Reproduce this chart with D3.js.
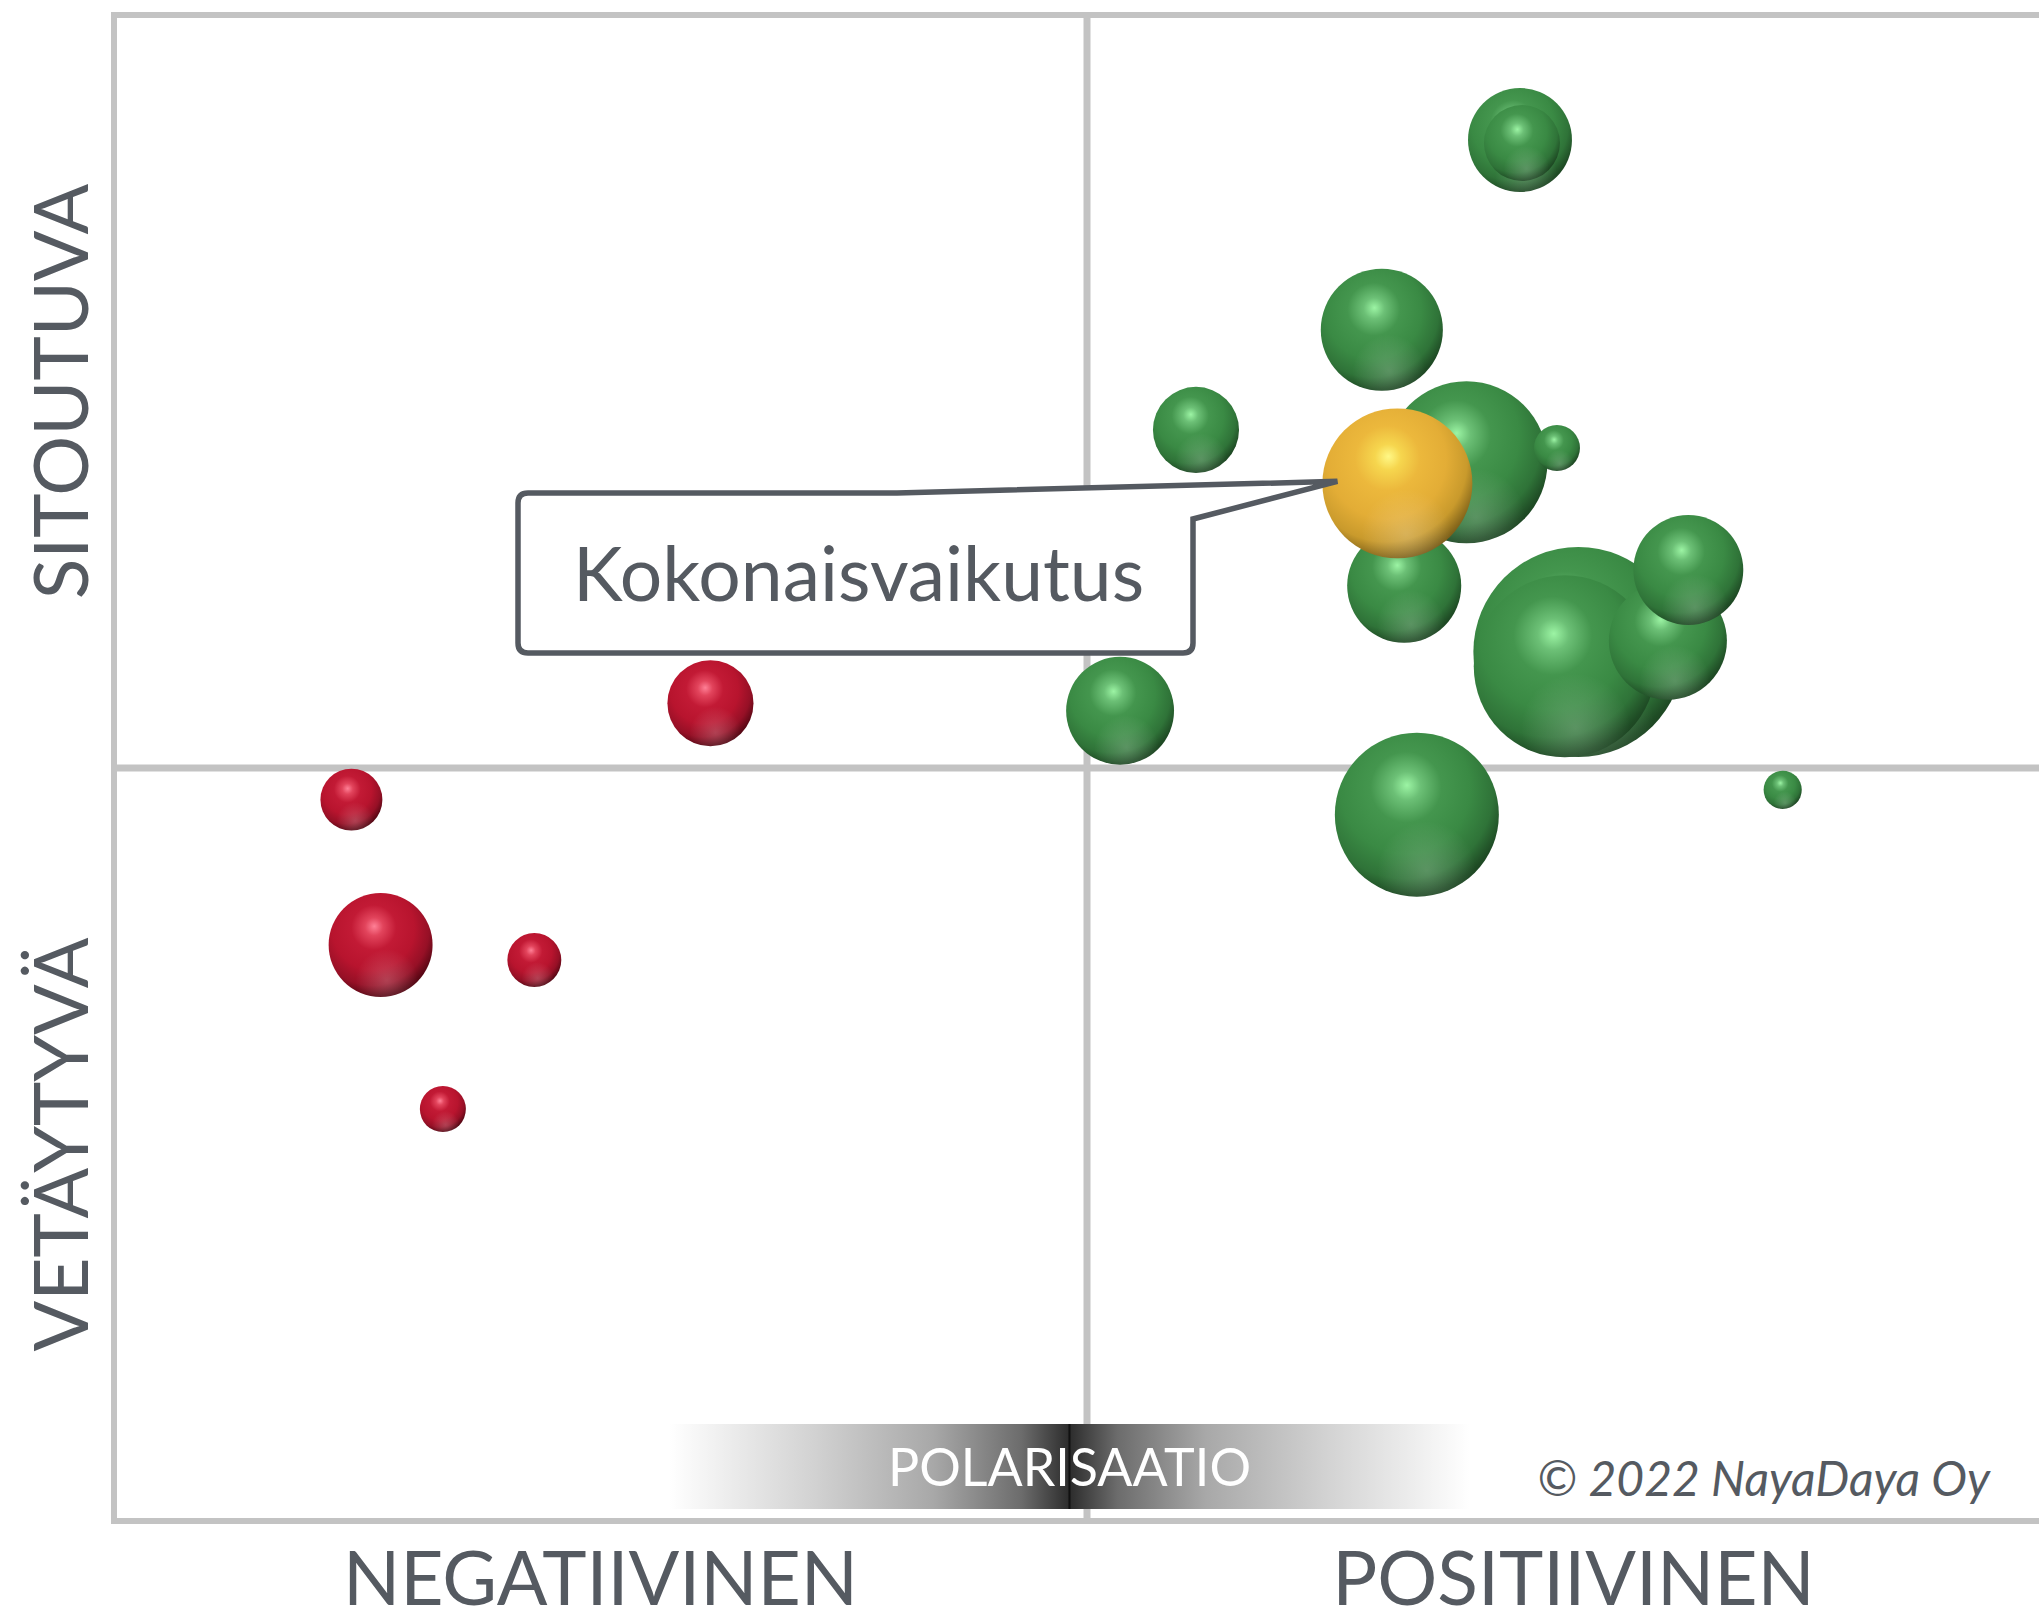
<!DOCTYPE html>
<html><head><meta charset="utf-8">
<script src="https://cdn.jsdelivr.net/npm/d3@7"></script>
<style>
html,body{margin:0;padding:0;background:#fff;}
svg{display:block;font-family:Lato,"Open Sans",sans-serif;}
</style></head>
<body>
<svg id="chart" width="2039" height="1619"></svg>
<script>
// ---- data (x: negatiivinen..positiivinen, y: vetäytyvä..sitoutuva, size: relative weight) ----
const groups = ["neg","neg","neg","neg","neg",
  "pos","pos","pos","pos","pos","pos","pos","pos","pos","pos","pos","pos","pos","pos",
  "total"];
const xValues = [-38.7,-75.6,-72.6,-56.8,-66.2,
  44.5,44.7,30.3,11.2,39.0,48.3,32.6,50.5,49.1,59.7,61.8,3.4,33.9,71.5,
  31.9];
const yValues = [8.6,-4.2,-23.5,-25.5,-45.3,
  83.4,83.0,58.2,44.9,40.6,42.5,24.2,15.4,13.5,16.9,26.3,7.6,-6.2,-2.9,
  37.8];
const sizes = [16.8,8.7,24.5,6.6,4.8,
  24.5,13.1,33.8,16.8,59.5,4.8,29.5,100,75.1,31.6,27.4,26.4,61.0,3.3,
  51.0];
const xAxisLabels = ["NEGATIIVINEN","POSITIIVINEN"];
const yAxisLabels = ["SITOUTUVA","VETÄYTYVÄ"];
const calloutLabel = "Kokonaisvaikutus";
const barLabel = "POLARISAATIO";
const copyright = "© 2022 NayaDaya Oy";

const svg = d3.select("#chart");
const L = 114, R = 2060, T = 15, B = 1521;
const x = d3.scaleLinear().domain([-100,100]).range([L,R]);
const y = d3.scaleLinear().domain([-100,100]).range([B,T]);
const r = d3.scaleSqrt().domain([0,100]).range([0,105]);
const textColor = "#555a61";
const lineColor = "#c3c3c3";

const defs = svg.append("defs");
const palettes = {
  pos:   ["#9cf4a4","#6cc076","#44964e","#3a8a44","#2f7338","#1f4c25","#1a3f1f","#24552b"],
  neg:   ["#ff8096","#e2445c","#c21a35","#b8142e","#961026","#5e0816","#4a0510","#5c0a18"],
  total: ["#fff886","#f6d64e","#ecb83c","#e3ad36","#c99a2c","#8a6a1c","#6d5014","#7a5a18"]
};
const offs = [0,0.12,0.3,0.55,0.75,0.88,0.95,1];
Object.entries(palettes).forEach(([k,cols])=>{
  const g = defs.append("radialGradient").attr("id","grad-"+k)
    .attr("cx",0.42).attr("cy",0.36).attr("r",0.72).attr("fx",0.44).attr("fy",0.32);
  cols.forEach((c,i)=>g.append("stop").attr("offset",offs[i]).attr("stop-color",c));
});
const refl = defs.append("radialGradient").attr("id","refl")
  .attr("cx",0.56).attr("cy",0.84).attr("r",0.3);
refl.append("stop").attr("offset",0).attr("stop-color","#fff").attr("stop-opacity",0.2);
refl.append("stop").attr("offset",1).attr("stop-color","#fff").attr("stop-opacity",0);

const barGrad = defs.append("linearGradient").attr("id","bar").attr("x1",0).attr("x2",1).attr("y1",0).attr("y2",0);
[[0,"#ffffff"],[0.18,"#d2d2d2"],[0.33,"#a8a8a8"],[0.44,"#6c6c6c"],[0.5,"#2c2c2c"],
 [0.56,"#6c6c6c"],[0.67,"#a8a8a8"],[0.82,"#d2d2d2"],[1,"#ffffff"]]
 .forEach(([o,c])=>barGrad.append("stop").attr("offset",o).attr("stop-color",c));

// ---- frame and quadrant lines ----
const frame = svg.append("g").attr("stroke",lineColor).attr("stroke-width",6).attr("fill","none");
frame.append("line").attr("x1",L).attr("x2",R).attr("y1",T).attr("y2",T);
frame.append("line").attr("x1",L).attr("x2",R).attr("y1",B).attr("y2",B);
frame.append("line").attr("x1",L).attr("x2",L).attr("y1",T-3).attr("y2",B+3);
const mid = svg.append("g").attr("stroke",lineColor).attr("stroke-width",7).attr("fill","none");
mid.append("line").attr("x1",x(0)).attr("x2",x(0)).attr("y1",T).attr("y2",B);
mid.append("line").attr("x1",L).attr("x2",R).attr("y1",y(0)).attr("y2",y(0));

// ---- polarisaatio bar ----
const barCx = x(-1.8), barW = 800, barTop = 1424, barH = 85;
svg.append("rect").attr("x",barCx-barW/2).attr("y",barTop).attr("width",barW).attr("height",barH)
  .attr("fill","url(#bar)");
svg.append("line").attr("x1",barCx).attr("x2",barCx).attr("y1",barTop).attr("y2",barTop+barH)
  .attr("stroke","#111").attr("stroke-width",2);
svg.append("text").attr("x",barCx).attr("y",1486).attr("text-anchor","middle")
  .attr("fill","#fff").attr("font-size",52).text(barLabel);

svg.append("text").attr("x",1990).attr("y",1496).attr("text-anchor","end")
  .attr("fill",textColor).attr("font-size",48).attr("font-style","italic").text(copyright);

// ---- bubbles ----
const data = xValues.map((v,i)=>({x:v,y:yValues[i],s:sizes[i],g:groups[i]}));
const bub = svg.append("g").selectAll("g").data(data).join("g")
  .attr("transform",d=>`translate(${x(d.x)},${y(d.y)})`);
bub.append("circle").attr("r",d=>r(d.s)).attr("fill",d=>`url(#grad-${d.g})`);
bub.append("circle").attr("r",d=>r(d.s)).attr("fill","url(#refl)");

// ---- callout ----
const tot = data.find(d=>d.g==="total");
const tipX = x(tot.x)-60, tipY = y(tot.y)-2;
const bx0 = 518, bx1 = 1193, by0 = 493, by1 = 653, cr = 10;
const p = d3.path();
p.moveTo(bx0+cr,by0);
p.lineTo(897,by0);
p.lineTo(tipX,tipY);
p.lineTo(bx1,519);
p.lineTo(bx1,by1-cr);
p.quadraticCurveTo(bx1,by1,bx1-cr,by1);
p.lineTo(bx0+cr,by1);
p.quadraticCurveTo(bx0,by1,bx0,by1-cr);
p.lineTo(bx0,by0+cr);
p.quadraticCurveTo(bx0,by0,bx0+cr,by0);
p.closePath();
svg.append("path").attr("d",p.toString()).attr("fill","#fff")
  .attr("stroke",textColor).attr("stroke-width",5.5).attr("stroke-linejoin","miter");
svg.append("text").attr("x",573).attr("y",601).attr("fill",textColor)
  .attr("font-size",75).text(calloutLabel);

// ---- axis labels ----
svg.append("text").attr("x",(L+x(0))/2).attr("y",1605).attr("text-anchor","middle")
  .attr("fill",textColor).attr("font-size",75).text(xAxisLabels[0]);
svg.append("text").attr("x",(x(0)+R)/2).attr("y",1605).attr("text-anchor","middle")
  .attr("fill",textColor).attr("font-size",75).text(xAxisLabels[1]);
svg.append("text").attr("transform",`translate(88,${(T+y(0))/2}) rotate(-90)`).attr("text-anchor","middle")
  .attr("fill",textColor).attr("font-size",75).text(yAxisLabels[0]);
svg.append("text").attr("transform",`translate(88,${(y(0)+B)/2}) rotate(-90)`).attr("text-anchor","middle")
  .attr("fill",textColor).attr("font-size",75).text(yAxisLabels[1]);
</script>
</body></html>
